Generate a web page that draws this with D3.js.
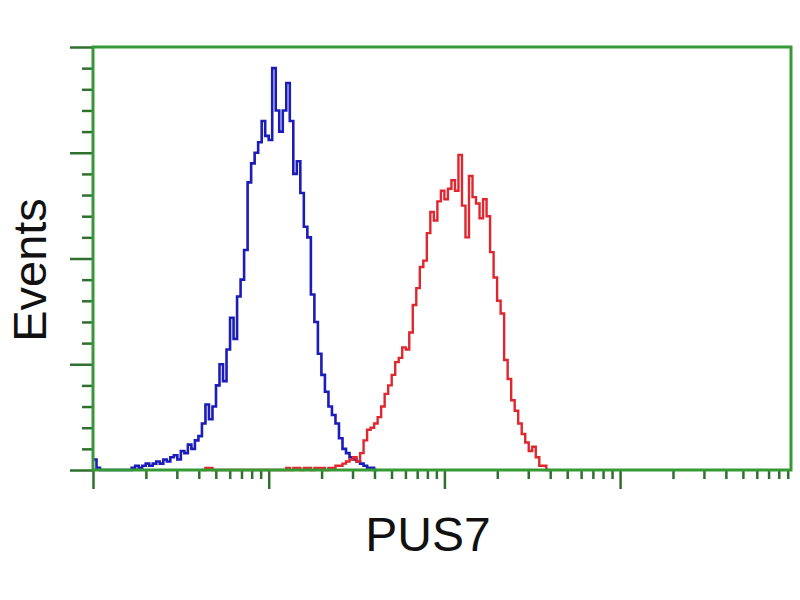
<!DOCTYPE html>
<html>
<head>
<meta charset="utf-8">
<script src="https://cdn.jsdelivr.net/npm/d3@7"></script>
<style>
  body { margin: 0; background: #fff; }
  svg { display: block; font-family: "Liberation Sans", Arial, sans-serif; }
</style>
</head>
<body>
<div id="chart"></div>
<script>
// histogram bins are 0.02 decades wide on a log axis
const binWidth = 0.02;

// isotype control (blue), first bin starts at 10^0
const blueStart = 0;
const blueCounts = [
  5, 1, 0, 0, 0, 0, 0, 0, 0, 0,
  0, 1, 2, 1, 2, 3, 2, 3, 4, 3,
  5, 4, 6, 7, 5, 9, 8, 12, 10, 14,
  16, 22, 31, 24, 30, 40, 50, 42, 57, 72,
  62, 82, 90, 104, 136, 145, 150, 155, 165, 158,
  156, 190, 170, 160, 170, 183, 165, 140, 146, 131,
  115, 110, 83, 70, 55, 45, 37, 30, 26, 22,
  15, 10, 8, 6, 5, 4, 3, 2, 1, 1,
  0
];

// PUS7 stained (red), first bin starts at 10^0.62
const redStart = 0.62;
const redCounts = [
  0, 1, 1, 0, 0, 0, 0, 0, 0, 0,
  0, 0, 0, 0, 0, 0, 0, 0, 0, 0,
  0, 0, 0, 0, 1, 0, 1, 1, 0, 1,
  1, 0, 1, 1, 1, 0, 1, 1, 2, 2,
  3, 4, 5, 6, 4, 8, 14, 19, 20, 22,
  25, 30, 36, 40, 45, 51, 53, 58, 57, 65,
  78, 86, 96, 99, 112, 122, 118, 127, 132, 128,
  133, 137, 132, 149, 125, 110, 139, 129, 126, 119,
  128, 120, 103, 91, 80, 74, 52, 43, 33, 28,
  22, 17, 13, 9, 11, 6, 2, 2, 0
];

const xMajorTicks = [1, 10, 100, 1000];
const yMajorTicks = [0, 50, 100, 150, 200];
const xLabel = 'PUS7';
const yLabel = 'Events';

const width = 800;
const height = 600;
const plotLeft = 93, plotRight = 791, plotTop = 47, plotBottom = 470;
const decadePx = 175.7;

const svg = d3.select('#chart')
  .append('svg')
  .attr('width', width)
  .attr('height', height);

const x = d3.scaleLog()
  .domain([1, Math.pow(10, (plotRight - plotLeft) / decadePx)])
  .range([plotLeft, plotRight]);

const y = d3.scaleLinear()
  .domain([0, 200])
  .range([plotBottom, plotTop]);

const toBins = (start, counts) => {
  const pts = counts.map((c, i) => ({ x: Math.pow(10, start + i * binWidth), c }));
  pts.push({ x: Math.pow(10, start + counts.length * binWidth), c: counts[counts.length - 1] });
  return pts;
};

const line = d3.line()
  .x(d => x(d.x))
  .y(d => y(d.c))
  .curve(d3.curveStepAfter);

svg.append('path')
  .datum(toBins(blueStart, blueCounts))
  .attr('d', line)
  .attr('fill', 'none')
  .attr('stroke', '#1c1cb8')
  .attr('stroke-width', 2.6);

svg.append('path')
  .datum(toBins(redStart, redCounts))
  .attr('d', line)
  .attr('fill', 'none')
  .attr('stroke', '#e0262e')
  .attr('stroke-width', 2.4);

// minor ticks
const xMinor = [];
xMajorTicks.forEach(m => d3.range(2, 10).forEach(k => { if (m * k < x.domain()[1]) xMinor.push(m * k); }));
const yMinor = d3.range(0, 201, 10).filter(v => v % 50 !== 0);

const tickColor = '#2f6f2f';

const xMinorAxis = svg.append('g')
  .attr('transform', `translate(0,${plotBottom})`)
  .call(d3.axisBottom(x).tickValues(xMinor).tickSize(9).tickFormat(''));

const xMajorAxis = svg.append('g')
  .attr('transform', `translate(0,${plotBottom})`)
  .call(d3.axisBottom(x).tickValues(xMajorTicks).tickSize(19).tickFormat(''));

const yMinorAxis = svg.append('g')
  .attr('transform', `translate(${plotLeft},0)`)
  .call(d3.axisLeft(y).tickValues(yMinor).tickSize(11).tickFormat(''));

const yMajorAxis = svg.append('g')
  .attr('transform', `translate(${plotLeft},0)`)
  .call(d3.axisLeft(y).tickValues(yMajorTicks).tickSize(23).tickFormat(''));

[xMinorAxis, xMajorAxis, yMinorAxis, yMajorAxis].forEach(g => {
  g.select('.domain').remove();
  g.selectAll('line').attr('stroke', tickColor).attr('stroke-width', 2.5);
});

// green frame
svg.append('rect')
  .attr('x', plotLeft)
  .attr('y', plotTop)
  .attr('width', plotRight - plotLeft)
  .attr('height', plotBottom - plotTop)
  .attr('fill', 'none')
  .attr('stroke', '#359a35')
  .attr('stroke-width', 3);

svg.append('text')
  .attr('transform', 'translate(46,270) rotate(-90)')
  .attr('text-anchor', 'middle')
  .attr('font-size', '47px')
  .attr('fill', '#111')
  .text(yLabel);

svg.append('text')
  .attr('x', 428)
  .attr('y', 551)
  .attr('text-anchor', 'middle')
  .attr('font-size', '48px')
  .attr('fill', '#111')
  .text(xLabel);
</script>
</body>
</html>
